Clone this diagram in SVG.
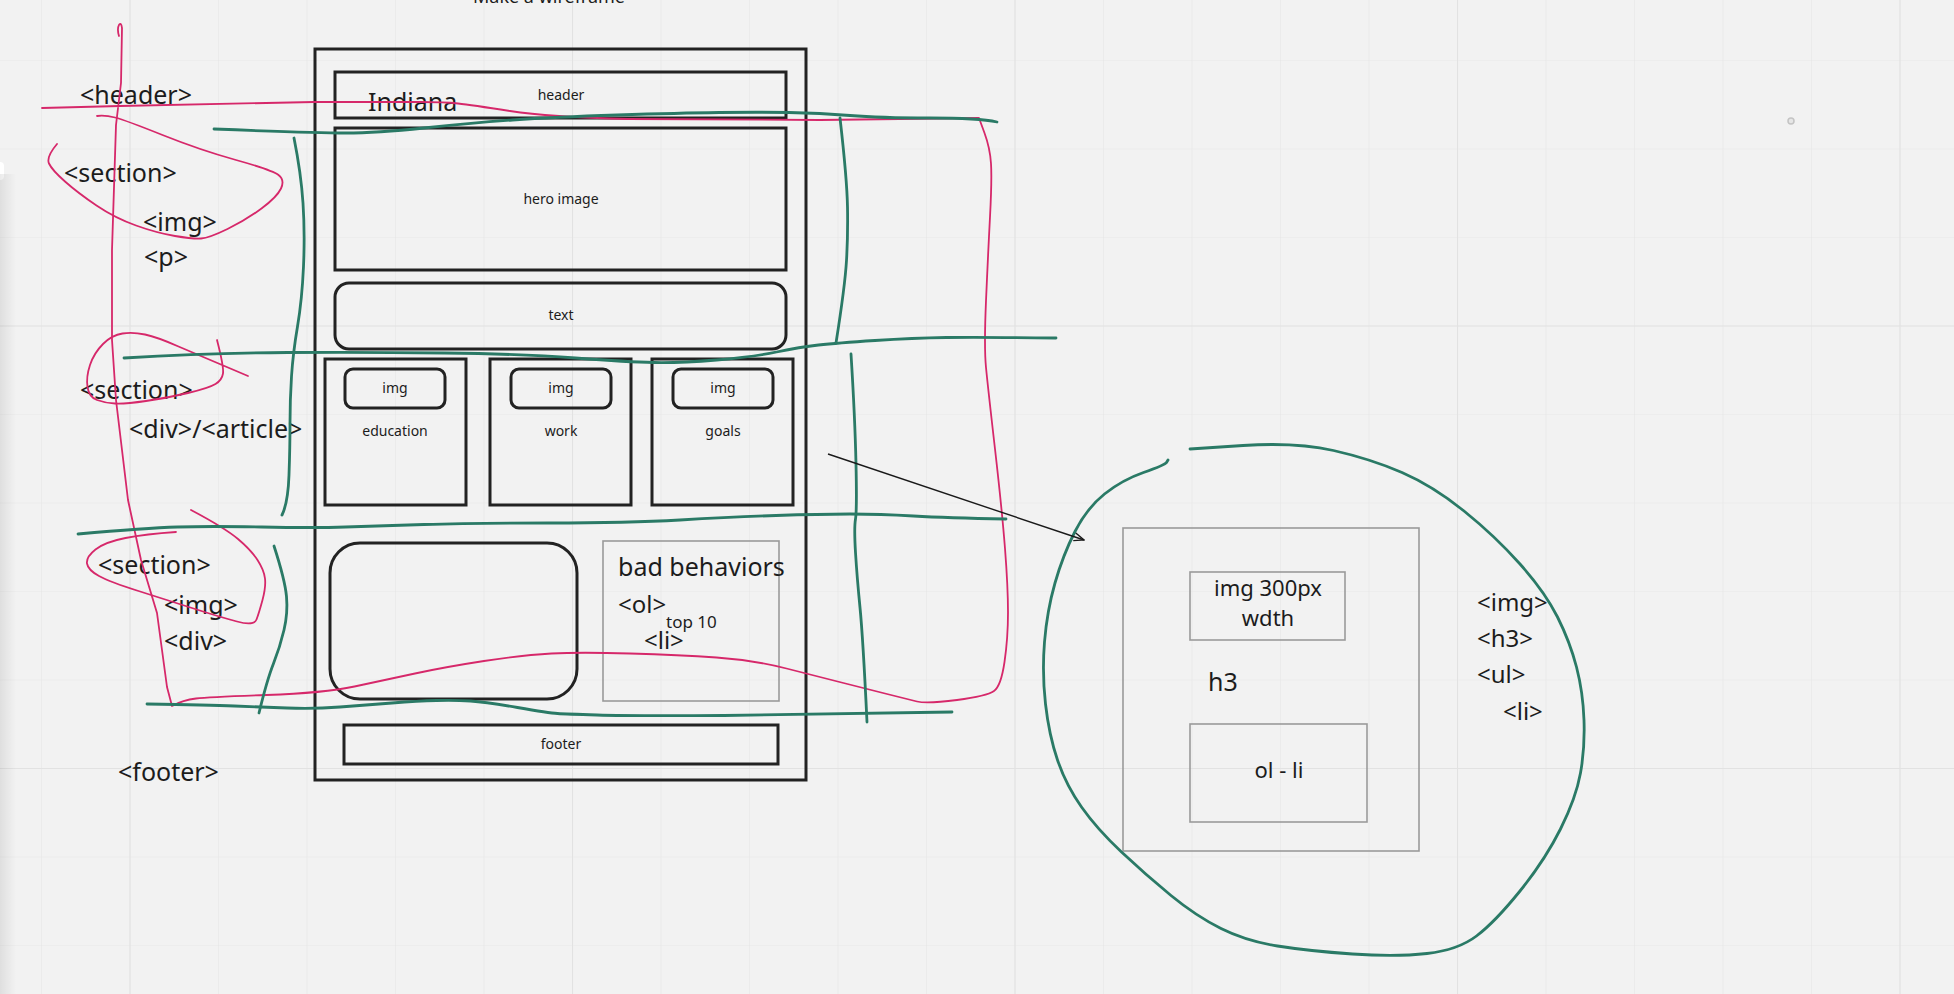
<svg xmlns="http://www.w3.org/2000/svg" width="1954" height="994" viewBox="0 0 1954 994">
  <defs>
    <pattern id="gridMinor" x="41" y="60" width="88.5" height="88.5" patternUnits="userSpaceOnUse">
      <path d="M0,0 V88.5 M0,0 H88.5" fill="none" stroke="#e7e7e7" stroke-width="1.2"/>
    </pattern>
    <pattern id="gridMajor" x="129.5" y="325.5" width="442.5" height="442.5" patternUnits="userSpaceOnUse">
      <path d="M0,0 V442.5 M0,0 H442.5" fill="none" stroke="#e2e2e2" stroke-width="2.2"/>
    </pattern>
    <linearGradient id="edgeShade" x1="0" y1="0" x2="1" y2="0">
      <stop offset="0" stop-color="#000" stop-opacity="0.08"/>
      <stop offset="1" stop-color="#000" stop-opacity="0"/>
    </linearGradient>
    <marker id="arrowHead" viewBox="0 0 12 10" refX="11" refY="5" markerWidth="12" markerHeight="10" markerUnits="userSpaceOnUse" orient="auto">
      <path d="M1,1 L11,5 L1,9" fill="none" stroke="#1a1a1a" stroke-width="1.4"/>
    </marker>
    <style>
      .frame { fill: none; stroke: #222; stroke-width: 3; }
      .box { fill: none; stroke: #222; stroke-width: 3; }
      .thin { fill: none; stroke: #9a9a9a; stroke-width: 1.6; }
      .lbl { font-family: "Noto Sans", "Open Sans", sans-serif; fill: #1c1c1c; }
      .small { font-size: 14px; text-anchor: middle; }
      .tag { font-size: 25px; }
      .pink { fill: none; stroke: #d6286a; stroke-width: 1.8; stroke-linecap: round; stroke-linejoin: round; }
      .green { fill: none; stroke: #2a7a66; stroke-width: 2.8; stroke-linecap: round; stroke-linejoin: round; }
    </style>
  </defs>

  <!-- board background and grid -->
  <rect x="0" y="0" width="1954" height="994" fill="#f2f2f2"/>
  <rect x="0" y="0" width="1954" height="994" fill="url(#gridMinor)"/>
  <rect x="0" y="0" width="1954" height="994" fill="url(#gridMajor)"/>
  <rect x="-10" y="162" width="14" height="18" rx="4" fill="#ffffff"/>
  <rect x="0" y="174" width="16" height="820" fill="url(#edgeShade)"/>
  <circle cx="1791" cy="121" r="3" fill="#e6e6e6" stroke="#c4c4c4" stroke-width="1.5"/>

  <text class="lbl" x="473" y="3" font-size="18">Make a wireframe</text>

  <!-- phone wireframe -->
  <g id="phone-frame">
    <rect class="frame" x="315" y="49" width="491" height="731"/>
  </g>
  <g id="header-box">
    <rect class="box" x="335" y="72" width="451" height="46"/>
    <text class="lbl small" x="561" y="100">header</text>
    <text class="lbl" x="368" y="111" font-size="25">Indiana</text>
  </g>
  <g id="hero-box">
    <rect class="box" x="335" y="128" width="451" height="142"/>
    <text class="lbl small" x="561" y="204">hero image</text>
  </g>
  <g id="text-box">
    <rect class="box" x="335" y="283" width="451" height="66" rx="14"/>
    <text class="lbl small" x="561" y="320">text</text>
  </g>
  <g id="card-education">
    <rect class="box" x="325" y="359" width="141" height="146"/>
    <rect class="box" x="345" y="369" width="100" height="39" rx="8"/>
    <text class="lbl small" x="395" y="393">img</text>
    <text class="lbl small" x="395" y="436">education</text>
  </g>
  <g id="card-work">
    <rect class="box" x="490" y="359" width="141" height="146"/>
    <rect class="box" x="511" y="369" width="100" height="39" rx="8"/>
    <text class="lbl small" x="561" y="393">img</text>
    <text class="lbl small" x="561" y="436">work</text>
  </g>
  <g id="card-goals">
    <rect class="box" x="652" y="359" width="141" height="146"/>
    <rect class="box" x="673" y="369" width="100" height="39" rx="8"/>
    <text class="lbl small" x="723" y="393">img</text>
    <text class="lbl small" x="723" y="436">goals</text>
  </g>
  <g id="image-panel">
    <rect class="box" x="330" y="543" width="247" height="156" rx="30"/>
  </g>
  <g id="bad-behaviors">
    <rect class="thin" x="603" y="541" width="176" height="160"/>
    <text class="lbl" x="618" y="576" font-size="25">bad behaviors</text>
    <text class="lbl" x="618" y="613" font-size="24">&lt;ol&gt;</text>
    <text class="lbl" x="666" y="628" font-size="17">top 10</text>
    <text class="lbl" x="644" y="649" font-size="24">&lt;li&gt;</text>
  </g>
  <g id="footer-box">
    <rect class="box" x="344" y="725" width="434" height="39"/>
    <text class="lbl small" x="561" y="749">footer</text>
  </g>

  <!-- tag notes on the left -->
  <g id="tag-notes">
    <text class="lbl tag" x="80" y="104">&lt;header&gt;</text>
    <text class="lbl tag" x="64" y="182">&lt;section&gt;</text>
    <text class="lbl tag" x="143" y="231">&lt;img&gt;</text>
    <text class="lbl tag" x="144" y="266">&lt;p&gt;</text>
    <text class="lbl tag" x="80" y="399">&lt;section&gt;</text>
    <text class="lbl tag" x="129" y="438">&lt;div&gt;/&lt;article&gt;</text>
    <text class="lbl tag" x="98" y="574">&lt;section&gt;</text>
    <text class="lbl tag" x="164" y="614">&lt;img&gt;</text>
    <text class="lbl tag" x="164" y="650">&lt;div&gt;</text>
    <text class="lbl tag" x="118" y="781">&lt;footer&gt;</text>
  </g>

  <!-- card detail -->
  <g id="card-detail">
    <rect class="thin" x="1123" y="528" width="296" height="323"/>
    <rect class="thin" x="1190" y="572" width="155" height="68"/>
    <text class="lbl" x="1268" y="596" font-size="22" text-anchor="middle">img 300px</text>
    <text class="lbl" x="1268" y="626" font-size="22" text-anchor="middle">wdth</text>
    <text class="lbl" x="1208" y="691" font-size="25">h3</text>
    <rect class="thin" x="1190" y="724" width="177" height="98"/>
    <text class="lbl" x="1279" y="778" font-size="22" text-anchor="middle">ol - li</text>
  </g>
  <g id="detail-tags">
    <text class="lbl" x="1477" y="611" font-size="24">&lt;img&gt;</text>
    <text class="lbl" x="1477" y="647" font-size="24">&lt;h3&gt;</text>
    <text class="lbl" x="1477" y="683" font-size="24">&lt;ul&gt;</text>
    <text class="lbl" x="1503" y="720" font-size="24">&lt;li&gt;</text>
  </g>

  <!-- pen strokes and connector -->
  <g id="connectors">
    <path class="pink" d="M119,36 C116,26 121,19 122,28 L121,83 L116,125 L112,250 L112,340 L116,400 L128,500 L141,560 L157,613 L167,687 L172,706 Q183,700 196,698.5 Q209,697 266.5,695 Q324,693 354.5,686.5 Q385,680 415,673.5 Q445,667 484,661 Q523,655 551.5,653.5 Q580,652 630,653.5 Q680,655 716.5,657.5 Q753,660 786.5,668.5 Q820,677 843.5,683 Q867,689 887,694 Q907,699 917,701.5 Q927,704 957,700 Q987,696 994,691 Q1001,686 1004.5,662 Q1008,638 1008,612.5 Q1008,587 1005,548.5 Q1002,510 995,449 Q988,388 986,367.5 Q984,347 986,301 Q988,255 990,217 Q992,179 991,163.5 Q990,148 984.5,133 L979,118 L820,120 L628,119 Q549,117 510,111 Q471,105 458,103.5 Q445,102 420,102 L314,102 L120,106 L42,108"/>
    <path class="pink" d="M97,116 Q105,115 115,117.5 Q125,120 162.5,135 Q200,150 236,160 Q272,170 278.5,175 Q285,180 281,188.5 Q277,197 261.5,208.5 Q246,220 227.5,229 Q209,238 201,238.5 Q193,239 175,236 Q157,233 136,225.5 Q115,218 96.5,205.5 Q78,193 65,181.5 Q52,170 49,163.5 Q46,157 57,144"/>
    <path class="pink" d="M217,340 Q224,367 223,373.5 Q222,380 215.5,384 Q209,388 188,393 Q167,398 146,401 Q125,404 115,403.5 Q105,403 97,400 Q89,397 87.5,387 Q86,377 90,365 Q94,353 103,344 Q112,335 122.5,333.5 Q133,332 145,334.5 Q157,337 178.5,346.5 L248,376"/>
    <path class="pink" d="M176,532 Q146,534 125.5,538 Q105,542 95.5,549.5 Q86,557 87,563.5 Q88,570 99,576 Q110,582 138.5,591 Q167,600 193.5,608.5 Q220,617 237,621.5 Q254,626 256.5,619.5 Q259,613 262.5,600 Q266,587 265,578.5 Q264,570 257.5,560 Q251,550 238,539 Q225,528 191,510"/>

    <path class="green" d="M214,129 Q314,133 345.5,133 Q377,133 424,128 Q471,123 512.5,120 Q554,117 617,115 Q680,113 719,112.5 Q758,112 789,112.5 Q820,113 850,115.5 Q880,118 929.5,118 Q979,118 997,122"/>
    <path class="green" d="M294,138 Q301,173 303,203 Q305,233 303.5,266.5 Q302,300 297.5,326.5 Q293,353 291.5,376.5 Q290,400 290,423.5 Q290,447 289,475 Q288,503 282,515"/>
    <path class="green" d="M124,358 Q209,353 287.5,352.5 Q366,352 444.5,353 Q523,354 575.5,358 Q628,362 654,362.5 Q680,363 716.5,360 Q753,357 776.5,352 Q800,347 818.5,345 Q837,343 875,340.5 Q913,338 946.5,337.5 Q980,337 1056,338"/>
    <path class="green" d="M840,118 Q847,179 847.5,207 Q848,235 846.5,260.5 Q845,286 836,343"/>
    <path class="green" d="M851,354 Q855,418 856,464 Q857,510 855.5,519 Q854,528 855.5,552.5 Q857,577 860,607.5 Q863,638 867,722"/>
    <path class="green" d="M78,534 Q146,528 177.5,527 Q209,526 261.5,527 Q314,528 345.5,527 Q377,526 424,524.5 Q471,523 549.5,523 Q628,523 680,520 Q732,517 776,515.5 Q820,514 850,514 Q880,514 913.5,516 Q947,518 1006,519"/>
    <path class="green" d="M274,546 Q285,580 286.5,596.5 Q288,613 284,630 Q280,647 273.5,663.5 Q267,680 259,713"/>
    <path class="green" d="M147,704 Q209,705 234.5,706 Q260,707 287,708 Q314,709 340,707 Q366,705 392,703 Q418,701 436.5,700.5 Q455,700 470.5,701 Q486,702 517.5,707.5 Q549,713 557.5,713.5 Q566,714 597,715 Q628,716 724,715.5 L952,712"/>
    <path class="green" d="M1168,460 L1166.5,462.5 Q1165,465 1143.5,472.5 Q1122,480 1104.5,494 Q1087,508 1075,531.5 Q1063,555 1055,583 Q1047,611 1044.5,642 Q1042,673 1045.5,704 Q1049,735 1057.5,760 Q1066,785 1081.5,807 Q1097,829 1121.5,852 Q1146,875 1171,895.5 Q1196,916 1221,928.5 Q1246,941 1277.5,946 Q1309,951 1352.5,954 Q1396,957 1427,953.5 Q1458,950 1476.5,936 Q1495,922 1520,891 Q1545,860 1560.5,829 Q1576,798 1580.5,773 Q1585,748 1584,720 Q1583,692 1576.5,667 Q1570,642 1557.5,617 Q1545,592 1520,564 Q1495,536 1464,511 Q1433,486 1402,472.5 Q1371,459 1333.5,450.5 Q1296,442 1243,445.5 L1190,449"/>

    <path d="M828,454 L1084,540" fill="none" stroke="#1a1a1a" stroke-width="1.4" marker-end="url(#arrowHead)"/>
  </g>
</svg>
